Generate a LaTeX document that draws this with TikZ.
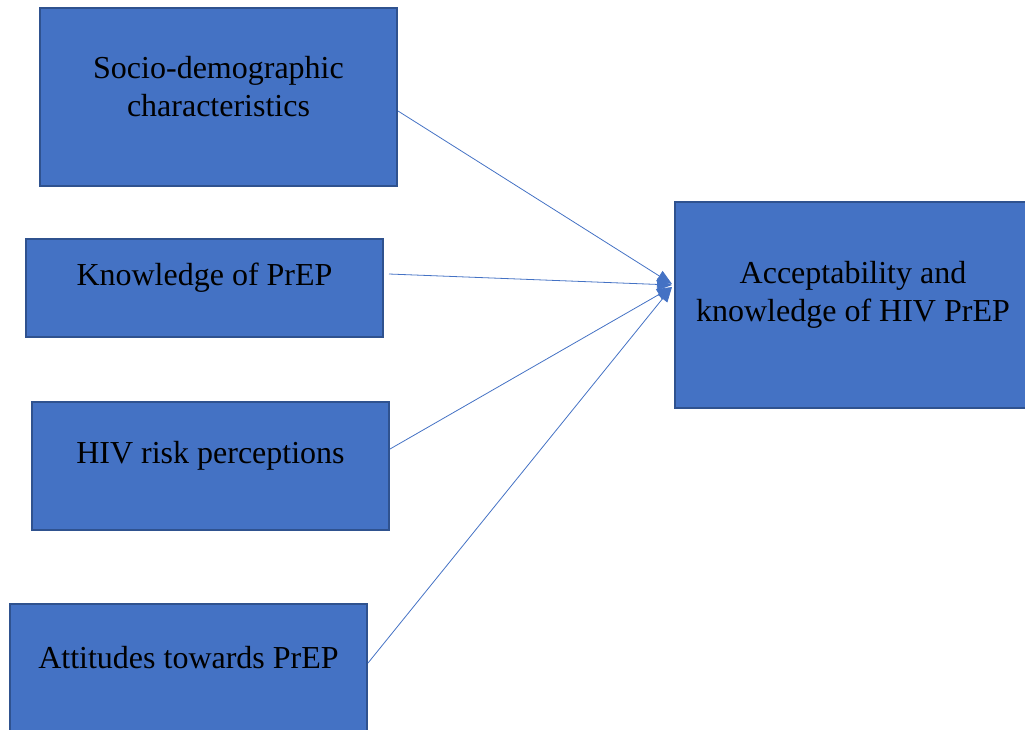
\documentclass[tikz,border=0pt]{standalone}
\usepackage{fontspec}
\setmainfont{Liberation Serif}
\usetikzlibrary{arrows.meta,calc}
\definecolor{boxfill}{HTML}{4472C4}
\definecolor{boxline}{HTML}{2F528F}
\definecolor{arrowc}{HTML}{4472C4}
\begin{document}
\begin{tikzpicture}[x=1pt,y=-1pt,
  box/.style={draw=boxline,line width=1.8pt,fill=boxfill,rectangle,inner sep=0pt,outer sep=0pt},
  txt/.style={font=\fontsize{32}{38}\selectfont,align=center,text=black,inner sep=0pt},
  conn/.style={draw=arrowc,line width=0.8pt,-{Triangle[length=15pt,width=12pt]}}]
\useasboundingbox (0,0) rectangle (1025,729);
\node[box,minimum width=357pt,minimum height=178pt,
  label={[txt,yshift=10pt]center:{Socio-demographic\\characteristics}}] (socio) at (218.5,97) {};
\node[box,minimum width=357pt,minimum height=98pt,
  label={[txt,yshift=10pt]center:{Knowledge of PrEP}}] (know) at (204.5,288) {};
\node[box,minimum width=357pt,minimum height=128pt,
  label={[txt,yshift=10pt]center:{HIV risk perceptions}}] (risk) at (210.5,466) {};
\node[box,minimum width=357pt,minimum height=128pt,
  label={[txt,yshift=10pt]center:{Attitudes towards PrEP}}] (att) at (188.5,668) {};
\node[box,minimum width=356pt,minimum height=206pt,
  label={[txt,yshift=10pt]center:{Acceptability and\\knowledge of HIV PrEP}}] (acc) at (853,305) {};
\coordinate (t1) at ($(acc.west)+(-3,-21)$);
\coordinate (t2) at ($(acc.west)+(-3,-20)$);
\coordinate (t3) at ($(acc.west)+(-3,-18)$);
\draw[conn] ($(socio.east)+(1,14)$) -- (t1);
\draw[conn] ($(know.east)+(6,-14)$) -- (t2);
\draw[conn] ($(risk.east)+(1,-17)$) -- (t3);
\draw[conn] ($(att.east)+(1,-5)$) -- (t3);
\end{tikzpicture}
\end{document}
